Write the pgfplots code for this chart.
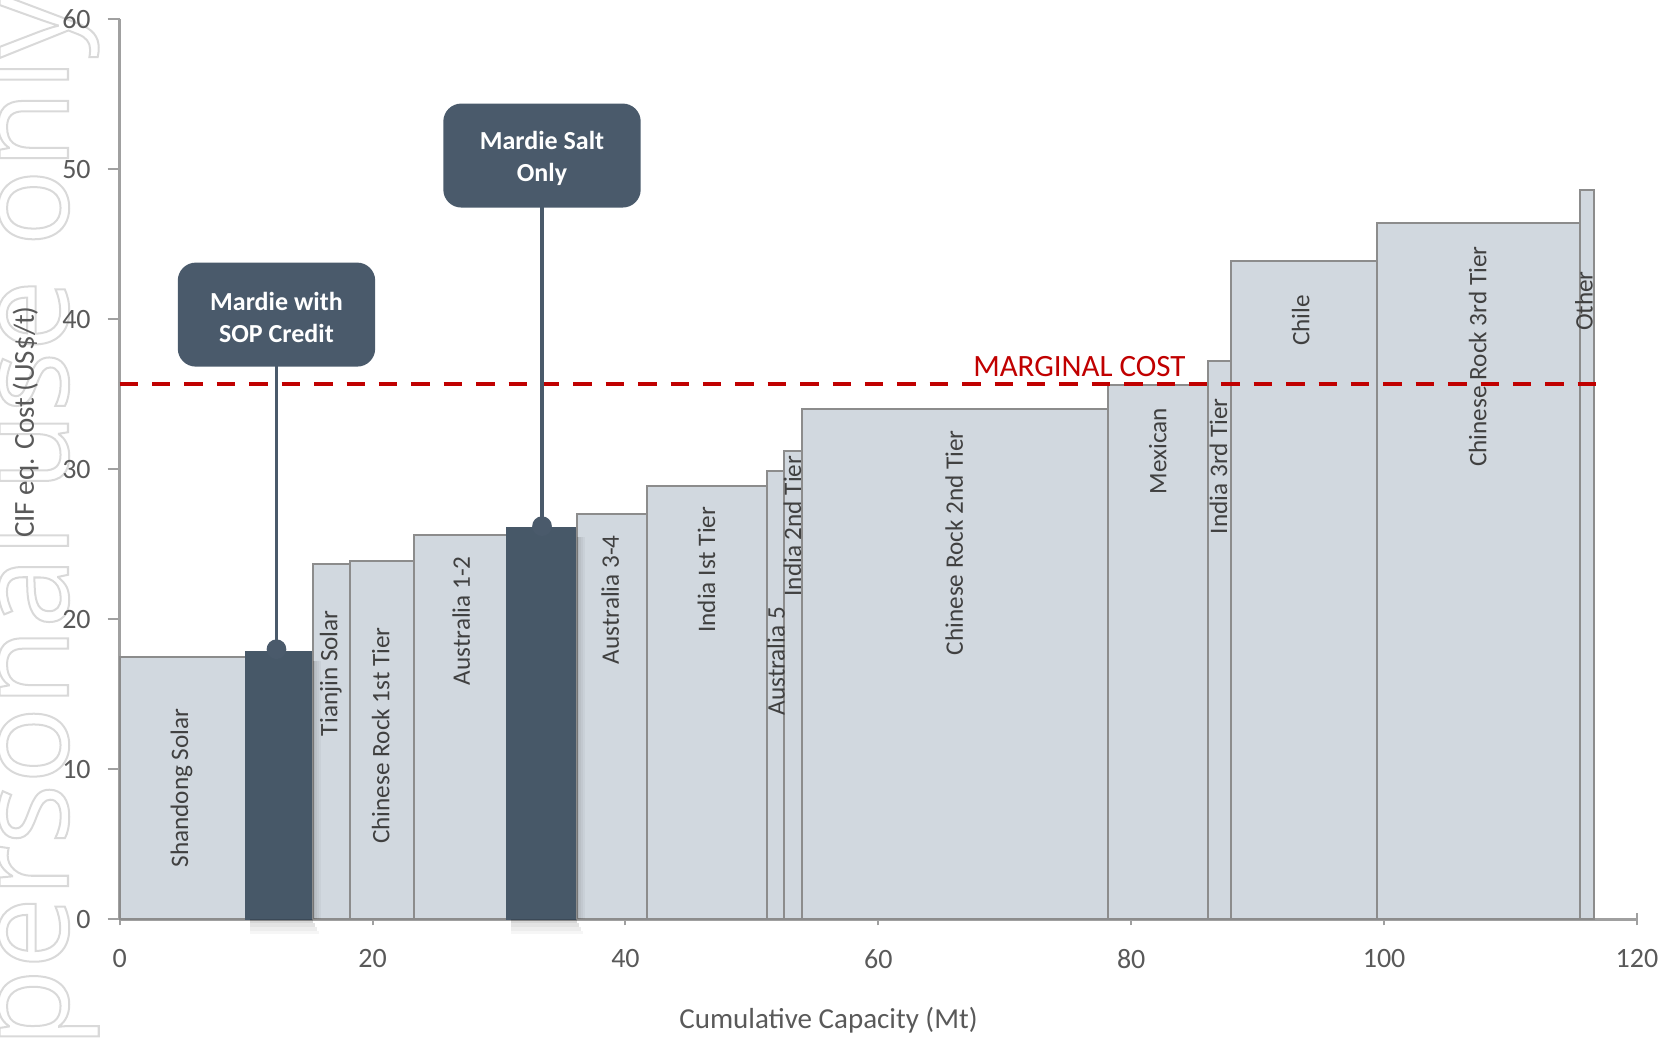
\documentclass[border=0pt]{standalone}
\usepackage{pgfplots}
\pgfplotsset{compat=1.18}
\usepackage{fontspec}
\setmainfont{Carlito}
\newfontfamily\wmfont{Open Sans}

\definecolor{lightbar}{HTML}{D1D8DF}
\definecolor{barborder}{HTML}{8C8C8C}
\definecolor{darkbar}{HTML}{475868}
\definecolor{boxfill}{HTML}{4A5A6B}
\definecolor{axisgray}{HTML}{A0A0A0}
\definecolor{ticktext}{HTML}{595959}
\definecolor{labeltext}{HTML}{404040}
\definecolor{margred}{HTML}{C00000}
\definecolor{wmgray}{HTML}{D9D9D9}

\pgfplotsset{
  costbar/.style={draw=barborder, fill=lightbar, line width=1pt, mark=none},
  mardiebar/.style={draw=darkbar, fill=darkbar, line width=1pt, mark=none},
}
\tikzset{
  barlabel/.style={rotate=90, text=labeltext, font=\fontsize{12.6}{14}\selectfont, inner sep=0pt},
  callout/.style={fill=boxfill, rounded corners=9pt, minimum width=98.7pt, minimum height=52pt, inner sep=0pt},
  callouttext/.style={text=white, align=center, font=\bfseries\fontsize{13}{16}\selectfont, inner sep=0pt},
  sh1/.style={black, opacity=0.16}, sh2/.style={black, opacity=0.11},
  sh3/.style={black, opacity=0.07}, sh4/.style={black, opacity=0.035},
}

\begin{document}
\begin{tikzpicture}
% watermark, outline text
\node[rotate=90, anchor=base east, text=wmgray, inner sep=0pt,
  font=\wmfont\fontsize{64}{70}\selectfont] at (-25.85pt,463pt)
  {\special{pdf:literal direct 1 Tr 1 w}personal use only\special{pdf:literal direct 0 Tr}};

\begin{axis}[
  at={(0,0)}, anchor=south west,
  scale only axis, width=758.65pt, height=450.15pt,
  xmin=0, xmax=120, ymin=0, ymax=60,
  axis x line*=bottom, axis y line*=left,
  axis line style={-, draw=axisgray, line width=1.2pt},
  xtick={0,20,...,120}, ytick={0,10,...,60},
  xtick align=center, ytick align=outside,
  major tick length=6pt,
  tick style={draw=axisgray, line width=1pt},
  tick label style={font=\fontsize{14}{16}\selectfont, text=ticktext},
  xticklabel style={yshift=-8.5pt},
  yticklabel style={xshift=-5pt},
  /pgf/number format/assume math mode=true,
  clip=false,
]
% supply curve: one rectangle per producer (start, end, cost)
\addplot[costbar] coordinates {(0,17.5) (10,17.5)} \closedcycle;
\addplot[mardiebar] coordinates {(10,17.8) (15.3,17.8)} \closedcycle;
\addplot[costbar] coordinates {(15.3,23.7) (18.2,23.7)} \closedcycle;
\addplot[costbar] coordinates {(18.2,23.9) (23.3,23.9)} \closedcycle;
\addplot[costbar] coordinates {(23.3,25.6) (30.65,25.6)} \closedcycle;
\addplot[mardiebar] coordinates {(30.65,26.1) (36.2,26.1)} \closedcycle;
\addplot[costbar] coordinates {(36.2,27.0) (41.7,27.0)} \closedcycle;
\addplot[costbar] coordinates {(41.7,28.9) (51.2,28.9)} \closedcycle;
\addplot[costbar] coordinates {(51.2,29.9) (52.5,29.9)} \closedcycle;
\addplot[costbar] coordinates {(52.5,31.2) (54.0,31.2)} \closedcycle;
\addplot[costbar] coordinates {(54.0,34.0) (78.2,34.0)} \closedcycle;
\addplot[costbar] coordinates {(78.2,35.6) (86.1,35.6)} \closedcycle;
\addplot[costbar] coordinates {(86.1,37.2) (87.9,37.2)} \closedcycle;
\addplot[costbar] coordinates {(87.9,43.9) (99.4,43.9)} \closedcycle;
\addplot[costbar] coordinates {(99.4,46.4) (115.5,46.4)} \closedcycle;
\addplot[costbar] coordinates {(115.5,48.6) (116.6,48.6)} \closedcycle;

% soft shadows beside and below the two Mardie bars
\fill[sh1] (axis cs:15.3,0) rectangle (axis cs:15.45,17.2);
\fill[sh2] (axis cs:15.45,0) rectangle (axis cs:15.6,17.2);
\fill[sh3] (axis cs:15.6,0) rectangle (axis cs:15.75,17.2);
\fill[sh4] (axis cs:15.75,0) rectangle (axis cs:15.9,17.2);
\fill[sh1] (axis cs:10.3,0) rectangle (axis cs:15.3,-0.25);
\fill[sh2] (axis cs:10.3,-0.25) rectangle (axis cs:15.45,-0.5);
\fill[sh3] (axis cs:10.3,-0.5) rectangle (axis cs:15.6,-0.75);
\fill[sh4] (axis cs:10.3,-0.75) rectangle (axis cs:15.75,-1.0);
\fill[sh1] (axis cs:36.2,0) rectangle (axis cs:36.35,25.5);
\fill[sh2] (axis cs:36.35,0) rectangle (axis cs:36.5,25.5);
\fill[sh3] (axis cs:36.5,0) rectangle (axis cs:36.65,25.5);
\fill[sh4] (axis cs:36.65,0) rectangle (axis cs:36.8,25.5);
\fill[sh1] (axis cs:30.95,0) rectangle (axis cs:36.2,-0.25);
\fill[sh2] (axis cs:30.95,-0.25) rectangle (axis cs:36.35,-0.5);
\fill[sh3] (axis cs:30.95,-0.5) rectangle (axis cs:36.5,-0.75);
\fill[sh4] (axis cs:30.95,-0.75) rectangle (axis cs:36.65,-1.0);

% marginal cost line
\addplot[margred, line width=2pt, dash pattern=on 9.2pt off 7pt, mark=none]
  coordinates {(0,35.7) (117,35.7)};
\node[text=margred, font=\fontsize{15.5}{17}\selectfont, inner sep=0pt]
  at (axis cs:75.9,36.85) {MARGINAL COST};

% producer labels
\node[barlabel] at (axis cs:4.9,8.75) {Shandong Solar};
\node[barlabel] at (axis cs:16.7,16.4) {Tianjin Solar};
\node[barlabel] at (axis cs:20.65,12.25) {Chinese Rock 1st Tier};
\node[barlabel] at (axis cs:27.0,19.9) {Australia 1-2};
\node[barlabel] at (axis cs:38.8,21.3) {Australia 3-4};
\node[barlabel] at (axis cs:46.4,23.3) {India Ist Tier};
\node[barlabel] at (axis cs:51.9,17.2) {Australia 5};
\node[barlabel] at (axis cs:53.2,26.2) {India 2nd Tier};
\node[barlabel] at (axis cs:66.0,25.1) {Chinese Rock 2nd Tier};
\node[barlabel] at (axis cs:82.1,31.2) {Mexican};
\node[barlabel] at (axis cs:86.9,30.2) {India 3rd Tier};
\node[barlabel] at (axis cs:93.4,39.9) {Chile};
\node[barlabel] at (axis cs:107.4,37.5) {Chinese Rock 3rd Tier};
\node[barlabel] at (axis cs:115.8,41.2) {Other};

% callouts for Mardie
\addplot[boxfill, line width=1.8pt, mark=*, mark size=4pt, mark indices={1}]
  coordinates {(12.4,18.0) (12.4,37.0)};
\addplot[boxfill, line width=1.8pt, mark=*, mark size=4pt, mark indices={1}]
  coordinates {(33.4,26.2) (33.4,47.5)};
\node[callout] at (axis cs:12.4,40.3) {};
\node[callouttext] at (axis cs:12.4,40.1) {Mardie with\\SOP Credit};
\node[callout] at (axis cs:33.4,50.9) {};
\node[callouttext] at (axis cs:33.4,50.7) {Mardie Salt\\Only};
\end{axis}

% axis titles
\node[rotate=90, text=ticktext, font=\fontsize{14.5}{16}\selectfont]
  at (-47.1pt,248.65pt) {CIF eq. Cost (US\$/t)};
\node[text=ticktext, font=\fontsize{14.5}{16}\selectfont]
  at (354.4pt,-50.35pt) {Cumulative Capacity (Mt)};

\pgfresetboundingbox
\useasboundingbox (-59.85pt,-60.85pt) rectangle (771.15pt,459.65pt);
\end{tikzpicture}
\end{document}
